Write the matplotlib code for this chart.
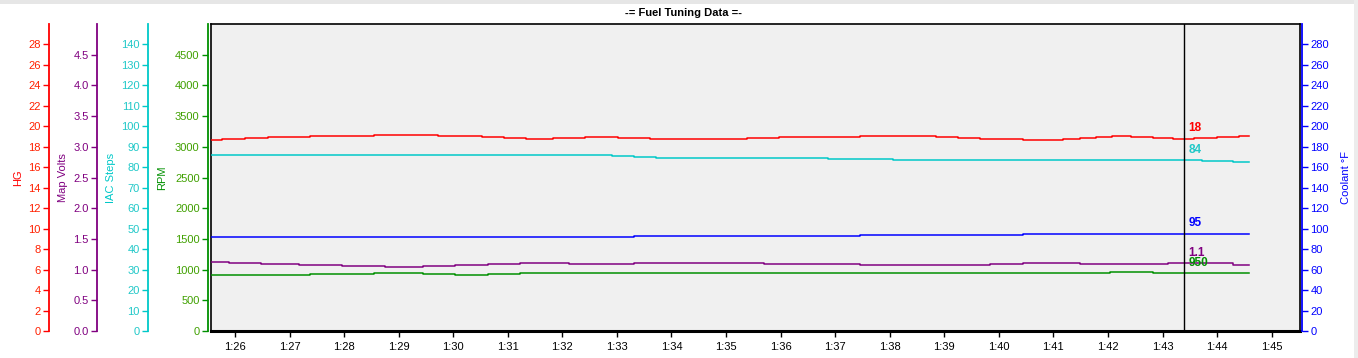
import matplotlib
matplotlib.use("Agg")
import matplotlib.pyplot as plt
from matplotlib.patches import Rectangle

plt.rcParams['font.family'] = ['Liberation Sans', 'DejaVu Sans']

# ---------------- data ----------------
title = "-= Fuel Tuning Data =-"
x_ticks = [86, 87, 88, 89, 90, 91, 92, 93, 94, 95, 96, 97, 98, 99, 100, 101, 102, 103, 104, 105]
x_labels = ["1:26", "1:27", "1:28", "1:29", "1:30", "1:31", "1:32", "1:33", "1:34", "1:35",
            "1:36", "1:37", "1:38", "1:39", "1:40", "1:41", "1:42", "1:43", "1:44", "1:45"]
x_range = [85.56, 105.52]
cursor_t = 103.40

hg_t = [85.56, 85.76, 86.18, 86.60, 87.37, 88.55, 89.72, 90.53, 90.93, 91.33, 91.83, 92.42,
        93.02, 93.61, 95.39, 95.97, 97.46, 98.85, 99.25, 99.66, 100.45, 101.18, 101.49, 101.78,
        102.08, 102.43, 102.83, 103.20, 103.58, 104.00, 104.41, 104.59]
hg_v = [18.7, 18.8, 18.9, 19.0, 19.1, 19.2, 19.1, 19.0, 18.9, 18.8, 18.9, 19.0,
        18.9, 18.8, 18.9, 19.0, 19.1, 19.0, 18.9, 18.8, 18.7, 18.8, 18.9, 19.0,
        19.1, 19.0, 18.9, 18.8, 18.9, 19.0, 19.1, 19.1]

iac_t = [85.56, 92.91, 93.31, 93.72, 96.87, 98.06, 103.73, 104.30, 104.59]
iac_v = [86, 85.5, 85, 84.5, 84, 83.5, 83, 82.5, 82.5]

clt_t = [85.56, 93.31, 97.46, 100.45, 104.59]
clt_v = [92, 93, 94, 95, 95]

map_t = [85.56, 85.89, 86.48, 87.17, 87.96, 88.75, 89.45, 90.03, 90.64, 91.22, 92.12, 93.31,
         95.70, 97.46, 99.84, 100.45, 101.49, 103.10, 104.30, 104.59]
map_v = [1.119, 1.103, 1.086, 1.070, 1.054, 1.037, 1.054, 1.070, 1.086, 1.103, 1.086, 1.103,
         1.086, 1.070, 1.086, 1.103, 1.086, 1.103, 1.070, 1.070]

rpm_t = [85.56, 87.37, 88.55, 89.45, 90.03, 90.64, 91.22, 102.04, 102.83, 104.59]
rpm_v = [907, 923, 940, 923, 907, 923, 940, 956, 940, 940]

cursor_labels = {"hg": "18", "iac": "84", "clt": "95", "map": "1.1", "rpm": "950"}

hg_ticks = list(range(0, 29, 2))
map_ticks = [0.0, 0.5, 1.0, 1.5, 2.0, 2.5, 3.0, 3.5, 4.0, 4.5]
iac_ticks = list(range(0, 141, 10))
rpm_ticks = list(range(0, 4501, 500))
clt_ticks = list(range(0, 281, 20))

# ---------------- figure ----------------
W, H = 1358, 358
fig = plt.figure(figsize=(W / 100, H / 100), dpi=100)
fig.patch.set_facecolor("white")
fig.patches.append(Rectangle((0, 1 - 4 / H), 1, 4 / H, transform=fig.transFigure,
                             facecolor="#e6e6e6", edgecolor="none"))
fig.patches.append(Rectangle((1 - 4 / W, 0), 4 / W, 1, transform=fig.transFigure,
                             facecolor="#ececec", edgecolor="none"))

L, R, T, B = 211, 1300, 24, 331
ax = fig.add_axes([L / W, (H - B) / H, (R - L) / W, (B - T) / H])
ax.set_facecolor("#f0f0f0")
ax.set_xlim(*x_range)
ax.set_xticks(x_ticks)
ax.set_xticklabels(x_labels)
ax.tick_params(axis="x", direction="out", length=4, width=1, labelsize=8, pad=4, colors="black")
ax.set_yticks([])
for s in ax.spines.values():
    s.set_color("black")
    s.set_linewidth(1.2)
ax.spines["bottom"].set_linewidth(2.2)

fig.text(0.503, 1 - 12.5 / H, title, ha="center", va="center", fontsize=8, fontweight="bold")

axw = R - L


def make_axis(spine_x, label, ylim, ticks, color, tcolor, label_x, side="left", tick_fmt=None):
    a = ax.twinx()
    a.set_ylim(*ylim)
    a.set_xlim(*x_range)
    for k, s in a.spines.items():
        s.set_visible(False)
    sp = a.spines[side]
    sp.set_visible(True)
    sp.set_color(color)
    sp.set_linewidth(1.3)
    sp.set_position(("axes", (spine_x - L) / axw))
    a.yaxis.set_ticks_position(side)
    a.yaxis.set_label_position(side)
    a.set_yticks(ticks)
    if tick_fmt:
        a.set_yticklabels([tick_fmt.format(t) for t in ticks])
    a.tick_params(axis="y", direction="out", length=4, width=1, color=color,
                  labelcolor=tcolor, labelsize=8, pad=2)
    a.set_ylabel(label, color=color, fontsize=8)
    a.yaxis.set_label_coords((label_x - L) / axw, 0.5)
    return a


ax_hg = make_axis(49, "HG", (0, 30), hg_ticks, "#ff0000", "#ff2000", 23)
ax_map = make_axis(97, "Map Volts", (0, 5), map_ticks, "#800080", "#800080", 68, tick_fmt="{:.1f}")
ax_iac = make_axis(148, "IAC Steps", (0, 150), iac_ticks, "#00c8c8", "#20c8c8", 116)
ax_rpm = make_axis(208, "RPM", (0, 5000), rpm_ticks, "#009000", "#40a000", 167)
ax_clt = make_axis(1302, "Coolant °F", (0, 300), clt_ticks, "#0000ff", "#0000ff", 1341, side="right")
ax_clt.yaxis.label.set_rotation(90)

lw = 1.1
ax_hg.plot(hg_t, hg_v, drawstyle="steps-post", color="#ff0000", lw=lw)
ax_iac.plot(iac_t, iac_v, drawstyle="steps-post", color="#00c8c8", lw=lw)
ax_clt.plot(clt_t, clt_v, drawstyle="steps-post", color="#0000ff", lw=lw)
ax_map.plot(map_t, map_v, drawstyle="steps-post", color="#800080", lw=lw)
ax_rpm.plot(rpm_t, rpm_v, drawstyle="steps-post", color="#009000", lw=lw)

ax_clt.axvline(cursor_t, color="black", lw=1.0)


def value_at(ts, vs, t):
    v = vs[0]
    for ti, vi in zip(ts, vs):
        if ti <= t:
            v = vi
    return v


for a, ts, vs, key, col in [(ax_hg, hg_t, hg_v, "hg", "#ff0000"),
                            (ax_iac, iac_t, iac_v, "iac", "#20c8c8"),
                            (ax_clt, clt_t, clt_v, "clt", "#0000ff"),
                            (ax_map, map_t, map_v, "map", "#800080"),
                            (ax_rpm, rpm_t, rpm_v, "rpm", "#009000")]:
    a.annotate(cursor_labels[key], xy=(cursor_t, value_at(ts, vs, cursor_t)),
               xytext=(3, 7.5), textcoords="offset points", ha="left", va="center",
               color=col, fontsize=8.5, fontweight="bold")

fig.savefig("out.png", dpi=100, facecolor=fig.get_facecolor())
